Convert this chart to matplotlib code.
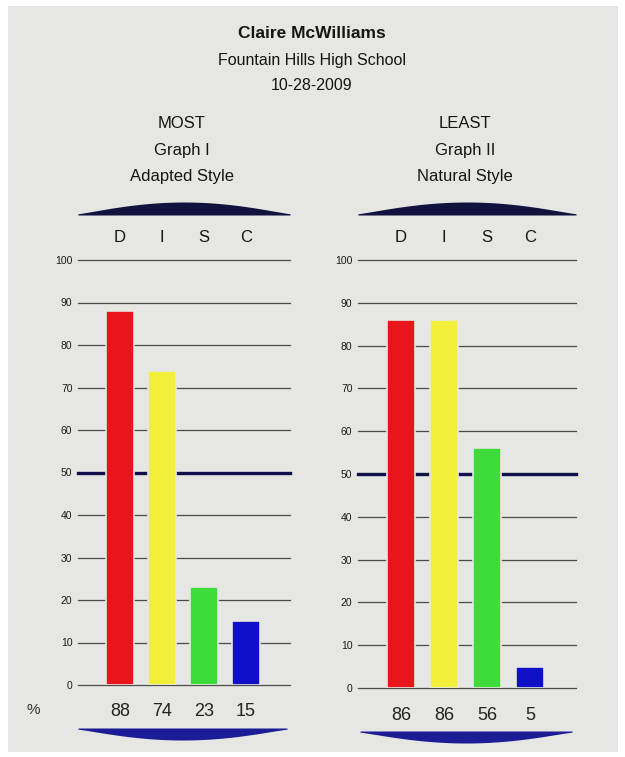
import numpy as np
import matplotlib.pyplot as plt

# DISC scores
categories = ['D', 'I', 'S', 'C']
most_scores = [88, 74, 23, 15]
least_scores = [86, 86, 56, 5]
bar_colors = ['#e8161c', '#f2ee3a', '#3ddc3c', '#1010c8']
yticks = [0, 10, 20, 30, 40, 50, 60, 70, 80, 90, 100]

name = 'Claire McWilliams'
school = 'Fountain Hills High School'
date = '10-28-2009'
headers = [['MOST', 'Graph I', 'Adapted Style'],
           ['LEAST', 'Graph II', 'Natural Style']]

plt.rcParams['font.family'] = ['Liberation Sans', 'DejaVu Sans']

W, H = 625, 757
BG = '#e6e6e3'
fig = plt.figure(figsize=(W / 100, H / 100), dpi=100, facecolor='white')

# background layer in pixel coordinates
bg = fig.add_axes([0, 0, 1, 1], zorder=0)
bg.set_xlim(0, W)
bg.set_ylim(H, 0)
bg.axis('off')
bg.add_patch(plt.Rectangle((8, 6), 610, 746, color=BG, lw=0))

bg.text(312, 33, name, ha='center', va='center', fontsize=12.5, fontweight='bold', color='#151515')
bg.text(312, 60, school, ha='center', va='center', fontsize=11.5, color='#151515')
bg.text(312, 86, date, ha='center', va='center', fontsize=11.5, color='#151515')


def arc(x0, x1, y_flat, h, up, color):
    # lens shaped band: flat on one side, tapering towards thin ends
    xs = np.linspace(x0, x1, 300)
    u = np.abs(xs - (x0 + x1) / 2) / ((x1 - x0) / 2)
    t = 0.1 + 0.9 * (1 - u ** 2) ** 1.2
    ys = y_flat - h * t if up else y_flat + h * t
    bg.fill_between(xs, y_flat, ys, color=color, lw=0)


# panel geometry in pixels: grid left/right, bar pitch, first bar center, y of 0 and 100
panels = [
    dict(gl=78, gr=290, c0=120, pitch=42, y0=685, y100=260, scores=most_scores,
         top=(78, 290, 215), bot=(78, 287, 728), vy=712),
    dict(gl=358, gr=576, c0=401, pitch=43, y0=688, y100=260, scores=least_scores,
         top=(358, 576, 215), bot=(360, 572, 731), vy=715),
]

for p, head in zip(panels, headers):
    cx = (p['gl'] + p['gr']) / 2 - 2
    for k, line in enumerate(head):
        bg.text(cx, 124 + 26 * k, line, ha='center', va='center', fontsize=12, color='#151515')
    arc(*p['top'][:2], p['top'][2], 13, True, '#11123d')
    arc(*p['bot'][:2], p['bot'][2], 12, False, '#1c1c96')

    left = p['gl'] / W
    bottom = (H - p['y0']) / H
    ax = fig.add_axes([left, bottom, (p['gr'] - p['gl']) / W, (p['y0'] - p['y100']) / H], zorder=1)
    ax.set_facecolor('none')
    xmax = (p['gr'] - p['c0']) / p['pitch']
    ax.set_xlim(-1, xmax)
    ax.set_ylim(0, 100)
    for v in yticks:
        if v == 50:
            ax.axhline(v, color='#10104a', lw=2.4, zorder=1, clip_on=False)
        else:
            ax.axhline(v, color='#4a4a4a', lw=0.9, zorder=1, clip_on=False)
    x = np.arange(len(categories))
    ax.bar(x, p['scores'], width=0.66, color=bar_colors, edgecolor=BG, lw=1.2, zorder=2)
    for s in ax.spines.values():
        s.set_visible(False)
    ax.set_yticks(yticks)
    ax.set_yticklabels([str(v) for v in yticks], fontsize=7.5, color='#1a1a1a')
    ax.tick_params(axis='y', length=0, pad=4)
    ax.set_xticks([])

    for i, (cat, val) in enumerate(zip(categories, p['scores'])):
        px = p['c0'] + i * p['pitch']
        bg.text(px, 238, cat, ha='center', va='center', fontsize=12, color='#151515')
        bg.text(px, p['vy'], str(val), ha='center', va='center', fontsize=13, color='#222222')

bg.text(33, 710, '%', ha='center', va='center', fontsize=11, color='#333333')

fig.savefig('out.png', dpi=100, facecolor='white')
